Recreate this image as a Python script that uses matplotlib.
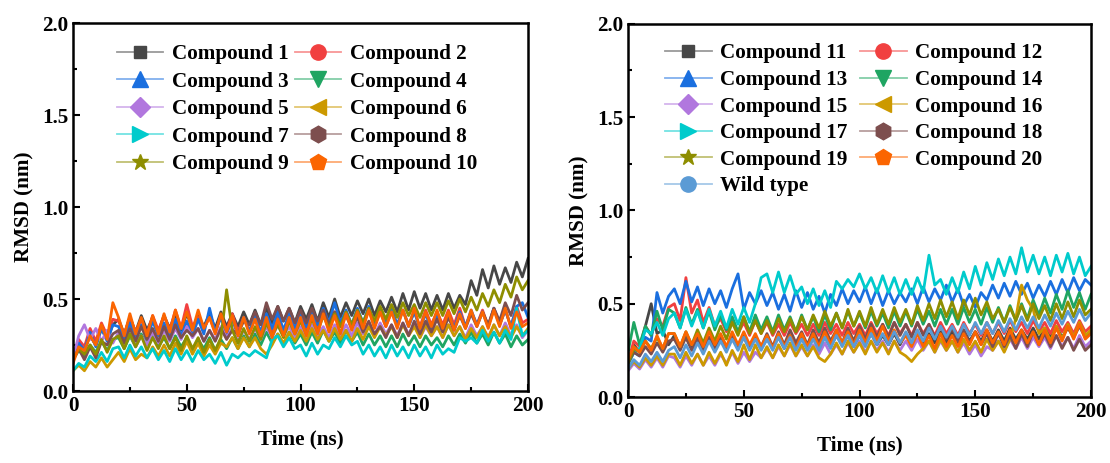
import numpy as np
import matplotlib
matplotlib.use("Agg")
import matplotlib.pyplot as plt
from matplotlib.lines import Line2D
from matplotlib.legend_handler import HandlerTuple
from matplotlib.ticker import MultipleLocator

plt.rcParams['font.family'] = ['Liberation Serif', 'DejaVu Serif']
plt.rcParams['font.weight'] = 'bold'

# ---------------- data (RMSD in nm, sampled every 2.5 ns from 0 to 200 ns) -------------
c1 = [0.18,0.27,0.22,0.30,0.25,0.34,0.28,0.36,
      0.39,0.31,0.40,0.32,0.41,0.33,0.40,0.32,
      0.41,0.34,0.42,0.33,0.42,0.34,0.41,0.35,
      0.42,0.34,0.43,0.35,0.42,0.35,0.43,0.36,
      0.44,0.36,0.45,0.37,0.46,0.38,0.45,0.37,
      0.46,0.39,0.47,0.38,0.48,0.40,0.50,0.40,
      0.48,0.41,0.49,0.42,0.50,0.41,0.49,0.43,
      0.51,0.43,0.53,0.44,0.54,0.45,0.53,0.44,
      0.52,0.44,0.53,0.45,0.52,0.47,0.60,0.52,
      0.66,0.56,0.68,0.58,0.67,0.59,0.70,0.62,0.72]
c2 = [0.17,0.28,0.24,0.34,0.27,0.37,0.30,0.39,
      0.38,0.31,0.40,0.32,0.39,0.31,0.41,0.33,
      0.41,0.33,0.44,0.34,0.47,0.35,0.40,0.34,
      0.40,0.32,0.41,0.33,0.42,0.32,0.40,0.33,
      0.39,0.31,0.41,0.32,0.40,0.32,0.39,0.33,
      0.40,0.33,0.41,0.34,0.42,0.35,0.43,0.35,
      0.42,0.35,0.43,0.36,0.44,0.35,0.43,0.35,
      0.43,0.36,0.44,0.36,0.43,0.35,0.44,0.36,
      0.43,0.36,0.44,0.36,0.45,0.35,0.43,0.36,
      0.44,0.35,0.45,0.36,0.44,0.35,0.46,0.37,0.39]
c3 = [0.18,0.26,0.22,0.32,0.24,0.34,0.27,0.36,
      0.35,0.28,0.37,0.29,0.36,0.28,0.38,0.30,
      0.37,0.29,0.39,0.30,0.38,0.30,0.39,0.31,
      0.45,0.32,0.40,0.31,0.39,0.30,0.40,0.32,
      0.41,0.32,0.42,0.34,0.43,0.33,0.42,0.34,
      0.43,0.35,0.44,0.36,0.45,0.37,0.48,0.37,
      0.44,0.36,0.45,0.37,0.46,0.36,0.44,0.37,
      0.45,0.36,0.44,0.35,0.43,0.34,0.42,0.33,
      0.41,0.33,0.42,0.34,0.43,0.35,0.44,0.36,
      0.43,0.35,0.45,0.36,0.44,0.35,0.46,0.48,0.40]
c4 = [0.17,0.22,0.19,0.25,0.21,0.27,0.22,0.28,
      0.29,0.23,0.30,0.24,0.31,0.25,0.30,0.24,
      0.29,0.23,0.30,0.24,0.29,0.22,0.28,0.23,
      0.29,0.22,0.28,0.23,0.29,0.23,0.30,0.24,
      0.31,0.25,0.32,0.26,0.31,0.25,0.32,0.26,
      0.31,0.25,0.32,0.26,0.33,0.27,0.32,0.26,
      0.33,0.27,0.32,0.25,0.31,0.25,0.30,0.24,
      0.30,0.24,0.31,0.25,0.30,0.24,0.30,0.25,
      0.29,0.24,0.30,0.25,0.31,0.26,0.32,0.26,
      0.31,0.25,0.32,0.26,0.31,0.24,0.30,0.25,0.28]
c5 = [0.18,0.30,0.36,0.28,0.34,0.27,0.33,0.26,
      0.32,0.25,0.31,0.24,0.30,0.25,0.32,0.26,
      0.33,0.27,0.34,0.28,0.35,0.29,0.34,0.27,
      0.33,0.28,0.35,0.29,0.34,0.27,0.33,0.28,
      0.34,0.28,0.35,0.29,0.36,0.30,0.35,0.29,
      0.35,0.29,0.36,0.30,0.35,0.29,0.36,0.30,
      0.36,0.30,0.37,0.31,0.36,0.30,0.37,0.31,
      0.36,0.30,0.37,0.31,0.36,0.29,0.35,0.30,
      0.35,0.29,0.36,0.30,0.35,0.29,0.36,0.30,
      0.35,0.29,0.36,0.30,0.37,0.30,0.36,0.29,0.33]
c6 = [0.11,0.14,0.11,0.16,0.13,0.18,0.13,0.17,
      0.21,0.16,0.23,0.17,0.20,0.18,0.24,0.19,
      0.25,0.19,0.26,0.20,0.27,0.20,0.26,0.19,
      0.25,0.20,0.26,0.24,0.29,0.23,0.29,0.24,
      0.29,0.23,0.20,0.25,0.31,0.26,0.32,0.27,
      0.33,0.27,0.34,0.28,0.33,0.27,0.34,0.28,
      0.33,0.27,0.34,0.28,0.35,0.29,0.35,0.30,
      0.35,0.29,0.36,0.30,0.35,0.29,0.36,0.30,
      0.35,0.29,0.36,0.30,0.35,0.28,0.34,0.29,
      0.35,0.29,0.36,0.30,0.35,0.29,0.35,0.30,0.34]
c7 = [0.11,0.15,0.13,0.19,0.16,0.21,0.16,0.23,
      0.24,0.18,0.25,0.19,0.24,0.18,0.23,0.17,
      0.22,0.16,0.23,0.17,0.22,0.16,0.22,0.17,
      0.20,0.15,0.21,0.14,0.20,0.18,0.21,0.19,
      0.22,0.20,0.18,0.28,0.30,0.24,0.29,0.23,
      0.25,0.19,0.26,0.20,0.25,0.23,0.29,0.24,
      0.30,0.25,0.27,0.20,0.25,0.19,0.24,0.18,
      0.25,0.19,0.24,0.18,0.25,0.19,0.24,0.18,
      0.25,0.20,0.23,0.21,0.29,0.27,0.29,0.26,
      0.33,0.27,0.32,0.26,0.33,0.28,0.45,0.30,0.33]
c8 = [0.17,0.23,0.17,0.24,0.18,0.27,0.25,0.31,
      0.33,0.26,0.34,0.27,0.35,0.28,0.34,0.27,
      0.35,0.28,0.36,0.29,0.33,0.30,0.34,0.27,
      0.33,0.27,0.34,0.28,0.33,0.31,0.38,0.36,
      0.43,0.36,0.48,0.39,0.46,0.38,0.45,0.37,
      0.44,0.37,0.45,0.38,0.44,0.36,0.43,0.35,
      0.41,0.34,0.40,0.32,0.38,0.31,0.35,0.29,
      0.36,0.29,0.37,0.30,0.38,0.31,0.38,0.32,
      0.39,0.32,0.40,0.33,0.41,0.34,0.42,0.35,
      0.43,0.36,0.45,0.38,0.48,0.41,0.52,0.44,0.48]
c9 = [0.17,0.23,0.20,0.25,0.20,0.28,0.21,0.28,
      0.30,0.23,0.31,0.24,0.30,0.22,0.29,0.23,
      0.30,0.23,0.29,0.22,0.30,0.23,0.29,0.21,
      0.28,0.22,0.29,0.55,0.33,0.26,0.34,0.27,
      0.35,0.28,0.37,0.30,0.36,0.29,0.38,0.31,
      0.38,0.31,0.39,0.32,0.41,0.34,0.42,0.35,
      0.43,0.36,0.44,0.37,0.45,0.38,0.46,0.39,
      0.47,0.40,0.48,0.41,0.47,0.40,0.48,0.41,
      0.48,0.41,0.49,0.42,0.50,0.43,0.51,0.44,
      0.53,0.46,0.55,0.48,0.58,0.51,0.62,0.55,0.60]
c10 = [0.15,0.24,0.22,0.30,0.25,0.36,0.28,0.48,
       0.40,0.30,0.42,0.31,0.40,0.30,0.41,0.31,
       0.42,0.32,0.44,0.34,0.43,0.33,0.44,0.34,
       0.40,0.31,0.42,0.32,0.41,0.30,0.40,0.31,
       0.39,0.30,0.40,0.29,0.39,0.30,0.40,0.31,
       0.40,0.30,0.41,0.31,0.42,0.32,0.41,0.31,
       0.42,0.33,0.43,0.34,0.44,0.34,0.43,0.35,
       0.43,0.34,0.44,0.35,0.45,0.34,0.43,0.35,
       0.44,0.34,0.43,0.33,0.42,0.34,0.44,0.35,
       0.43,0.34,0.44,0.35,0.45,0.34,0.43,0.35,0.37]

c11 = [0.18,0.28,0.24,0.38,0.50,0.34,0.36,0.28,
       0.33,0.27,0.32,0.26,0.33,0.27,0.32,0.26,
       0.33,0.27,0.32,0.26,0.33,0.27,0.32,0.26,
       0.31,0.27,0.32,0.26,0.33,0.27,0.32,0.27,
       0.33,0.27,0.32,0.27,0.33,0.28,0.33,0.27,
       0.33,0.28,0.34,0.28,0.33,0.28,0.34,0.28,
       0.34,0.29,0.35,0.29,0.34,0.29,0.35,0.29,
       0.35,0.29,0.36,0.30,0.35,0.30,0.36,0.30,
       0.36,0.30,0.37,0.31,0.36,0.31,0.37,0.31,
       0.37,0.32,0.38,0.32,0.37,0.32,0.38,0.32,0.36]
c12 = [0.19,0.30,0.27,0.38,0.33,0.42,0.38,0.48,
       0.50,0.41,0.64,0.45,0.52,0.40,0.48,0.38,
       0.42,0.35,0.41,0.34,0.40,0.33,0.41,0.34,
       0.40,0.33,0.39,0.33,0.40,0.34,0.39,0.33,
       0.39,0.33,0.40,0.34,0.39,0.33,0.40,0.34,
       0.39,0.33,0.40,0.34,0.39,0.33,0.40,0.34,
       0.39,0.33,0.40,0.34,0.39,0.33,0.40,0.34,
       0.39,0.33,0.40,0.34,0.39,0.33,0.40,0.34,
       0.40,0.34,0.41,0.35,0.40,0.34,0.41,0.35,
       0.40,0.34,0.41,0.35,0.40,0.34,0.41,0.35,0.38]
c13 = [0.18,0.24,0.22,0.32,0.30,0.56,0.45,0.54,
       0.58,0.50,0.62,0.51,0.59,0.49,0.58,0.50,
       0.57,0.48,0.58,0.66,0.47,0.56,0.50,0.57,
       0.49,0.56,0.47,0.55,0.46,0.57,0.48,0.56,
       0.47,0.54,0.45,0.55,0.49,0.58,0.50,0.57,
       0.51,0.59,0.50,0.58,0.49,0.57,0.50,0.56,
       0.51,0.58,0.50,0.59,0.51,0.58,0.52,0.60,
       0.51,0.58,0.49,0.55,0.48,0.56,0.52,0.60,
       0.53,0.61,0.54,0.62,0.55,0.61,0.53,0.60,
       0.54,0.62,0.55,0.63,0.56,0.64,0.57,0.63,0.60]
c14 = [0.24,0.40,0.28,0.38,0.33,0.46,0.36,0.47,
       0.45,0.37,0.48,0.39,0.47,0.37,0.46,0.36,
       0.44,0.36,0.43,0.35,0.43,0.35,0.44,0.36,
       0.43,0.35,0.44,0.36,0.43,0.35,0.44,0.36,
       0.43,0.35,0.44,0.36,0.45,0.37,0.46,0.38,
       0.45,0.37,0.46,0.38,0.45,0.37,0.46,0.38,
       0.46,0.38,0.47,0.39,0.46,0.38,0.47,0.39,
       0.47,0.39,0.48,0.40,0.47,0.39,0.48,0.40,
       0.48,0.40,0.49,0.41,0.50,0.42,0.52,0.44,
       0.53,0.45,0.55,0.47,0.57,0.48,0.56,0.47,0.55]
c15 = [0.14,0.18,0.15,0.20,0.16,0.21,0.16,0.22,
       0.21,0.16,0.22,0.17,0.23,0.17,0.22,0.17,
       0.23,0.18,0.24,0.18,0.24,0.19,0.24,0.21,
       0.26,0.21,0.27,0.22,0.28,0.22,0.27,0.22,
       0.28,0.23,0.29,0.23,0.28,0.23,0.29,0.24,
       0.30,0.24,0.30,0.25,0.30,0.24,0.30,0.25,
       0.30,0.25,0.31,0.25,0.30,0.24,0.30,0.25,
       0.30,0.24,0.29,0.23,0.28,0.22,0.27,0.25,
       0.30,0.25,0.31,0.26,0.32,0.26,0.32,0.27,
       0.32,0.26,0.33,0.27,0.32,0.26,0.33,0.27,0.30]
c16 = [0.15,0.19,0.16,0.21,0.17,0.22,0.17,0.23,
       0.23,0.17,0.24,0.18,0.23,0.17,0.24,0.18,
       0.24,0.17,0.25,0.19,0.28,0.20,0.28,0.21,
       0.27,0.21,0.28,0.22,0.29,0.22,0.28,0.22,
       0.27,0.21,0.19,0.23,0.29,0.23,0.30,0.24,
       0.29,0.23,0.30,0.24,0.29,0.23,0.30,0.24,
       0.22,0.19,0.23,0.26,0.30,0.24,0.31,0.25,
       0.30,0.24,0.31,0.25,0.30,0.24,0.31,0.25,
       0.30,0.24,0.31,0.42,0.60,0.52,0.47,0.34,
       0.37,0.30,0.38,0.31,0.39,0.32,0.40,0.33,0.36]
c17 = [0.17,0.24,0.26,0.36,0.34,0.40,0.33,0.42,
       0.45,0.37,0.47,0.38,0.46,0.37,0.47,0.38,
       0.46,0.37,0.47,0.39,0.48,0.40,0.50,0.64,
       0.66,0.56,0.67,0.56,0.65,0.55,0.59,0.50,
       0.58,0.49,0.57,0.48,0.62,0.58,0.63,0.59,
       0.66,0.58,0.64,0.56,0.65,0.56,0.64,0.55,
       0.63,0.55,0.64,0.56,0.76,0.60,0.63,0.55,
       0.64,0.56,0.67,0.58,0.70,0.60,0.72,0.63,
       0.74,0.65,0.75,0.66,0.80,0.67,0.76,0.66,
       0.75,0.65,0.76,0.67,0.77,0.66,0.75,0.65,0.70]
c18 = [0.18,0.24,0.22,0.27,0.23,0.29,0.24,0.30,
       0.31,0.25,0.32,0.25,0.31,0.25,0.32,0.26,
       0.32,0.26,0.33,0.27,0.32,0.26,0.33,0.27,
       0.34,0.27,0.35,0.28,0.36,0.29,0.35,0.28,
       0.36,0.29,0.37,0.30,0.36,0.29,0.37,0.30,
       0.38,0.31,0.39,0.32,0.39,0.32,0.40,0.33,
       0.39,0.32,0.40,0.33,0.39,0.32,0.38,0.31,
       0.37,0.30,0.36,0.29,0.35,0.28,0.34,0.27,
       0.34,0.27,0.33,0.26,0.34,0.27,0.35,0.28,
       0.34,0.27,0.33,0.26,0.32,0.25,0.31,0.25,0.28]
c19 = [0.18,0.26,0.24,0.30,0.26,0.32,0.26,0.34,
       0.34,0.27,0.35,0.28,0.36,0.29,0.37,0.30,
       0.38,0.31,0.40,0.33,0.43,0.34,0.41,0.34,
       0.41,0.34,0.42,0.35,0.42,0.35,0.43,0.36,
       0.44,0.37,0.46,0.38,0.45,0.37,0.47,0.38,
       0.46,0.38,0.48,0.39,0.47,0.39,0.48,0.40,
       0.47,0.39,0.49,0.41,0.50,0.42,0.52,0.43,
       0.51,0.42,0.52,0.44,0.53,0.44,0.51,0.42,
       0.47,0.40,0.48,0.41,0.49,0.41,0.50,0.42,
       0.49,0.41,0.50,0.42,0.51,0.43,0.52,0.44,0.47]
c20 = [0.20,0.27,0.24,0.30,0.25,0.33,0.26,0.34,
       0.34,0.27,0.35,0.28,0.34,0.27,0.35,0.28,
       0.34,0.27,0.35,0.28,0.35,0.28,0.34,0.27,
       0.33,0.26,0.34,0.27,0.33,0.26,0.34,0.27,
       0.34,0.27,0.35,0.28,0.36,0.29,0.35,0.28,
       0.36,0.29,0.37,0.30,0.38,0.30,0.36,0.29,
       0.33,0.27,0.34,0.27,0.33,0.26,0.34,0.27,
       0.33,0.27,0.34,0.28,0.35,0.28,0.36,0.29,
       0.35,0.28,0.36,0.29,0.36,0.29,0.35,0.28,
       0.36,0.29,0.37,0.30,0.38,0.31,0.39,0.31,0.34]
wild = [0.15,0.20,0.17,0.23,0.19,0.24,0.19,0.25,
        0.27,0.21,0.28,0.22,0.29,0.23,0.30,0.24,
        0.30,0.24,0.31,0.25,0.32,0.25,0.31,0.25,
        0.31,0.25,0.32,0.26,0.32,0.25,0.31,0.25,
        0.31,0.25,0.32,0.26,0.33,0.27,0.33,0.27,
        0.33,0.27,0.34,0.28,0.34,0.28,0.35,0.29,
        0.35,0.29,0.36,0.30,0.37,0.31,0.38,0.32,
        0.38,0.32,0.39,0.33,0.40,0.34,0.40,0.34,
        0.41,0.35,0.42,0.36,0.43,0.37,0.43,0.37,
        0.44,0.38,0.45,0.39,0.46,0.40,0.47,0.41,0.45]

left_labels = [f"Compound {i}" for i in range(1, 11)]
right_labels = [f"Compound {i}" for i in range(11, 21)] + ["Wild type"]
left_series = [c1, c2, c3, c4, c5, c6, c7, c8, c9, c10]
right_series = [c11, c12, c13, c14, c15, c16, c17, c18, c19, c20, wild]

colors = ['#474747', '#F14040', '#1A6FDF', '#1FA562', '#B177DE', '#CC9900',
          '#00CBCC', '#7D4E4E', '#8E8E00', '#FB6501', '#5B9BD5']
markers = ['s', 'o', '^', 'v', 'D', '<', '>', 'h', '*', 'p', 'o']
msizes = [9, 11, 12, 12, 10, 12, 12, 12, 12, 12, 11]

fig = plt.figure(figsize=(11.1, 4.63), dpi=100)
axL = fig.add_axes([0.0658, 0.1555, 0.4099, 0.7948])
axR = fig.add_axes([0.5658, 0.1425, 0.4171, 0.8060])

FS = 15.2


def draw(ax, series, labels, legend_anchor, colsp, lsp):
    handles = []
    for ci, (y, lab) in enumerate(zip(series, labels)):
        t = np.linspace(0, 200, len(y))
        ax.plot(t, y, color=colors[ci], lw=2.0, solid_joinstyle='round')
        hl = Line2D([], [], color=colors[ci], lw=1.3, alpha=0.55)
        hm = Line2D([], [], linestyle='none', marker=markers[ci],
                    markersize=msizes[ci], markerfacecolor=colors[ci],
                    markeredgecolor=colors[ci])
        handles.append((hl, hm))
    ax.set_xlim(0, 200)
    ax.set_ylim(0, 2.0)
    ax.xaxis.set_major_locator(MultipleLocator(50))
    ax.xaxis.set_minor_locator(MultipleLocator(25))
    ax.yaxis.set_major_locator(MultipleLocator(0.5))
    ax.yaxis.set_minor_locator(MultipleLocator(0.25))
    ax.tick_params(which='both', direction='in', top=False, right=False,
                   width=1.5, labelsize=FS)
    ax.tick_params(which='major', length=5)
    ax.tick_params(which='minor', length=3)
    ax.set_yticks([0, 0.5, 1.0, 1.5, 2.0])
    ax.set_yticklabels(['0.0', '0.5', '1.0', '1.5', '2.0'])
    for lab in ax.get_xticklabels() + ax.get_yticklabels():
        lab.set_fontweight('bold')
    for s in ax.spines.values():
        s.set_linewidth(1.8)
    ax.set_xlabel('Time (ns)', fontsize=FS, fontweight='bold', labelpad=10)
    ax.set_ylabel('RMSD (nm)', fontsize=FS, fontweight='bold', labelpad=5)
    n = len(handles)
    order = list(range(0, n, 2)) + list(range(1, n, 2))
    ax.legend([handles[i] for i in order], [labels[i] for i in order],
              handler_map={tuple: HandlerTuple(ndivide=1, pad=0)},
              ncol=2, frameon=False, loc='upper left', bbox_to_anchor=legend_anchor,
              prop={'size': FS, 'weight': 'bold'}, handlelength=2.2,
              handletextpad=0.4, columnspacing=colsp, labelspacing=lsp,
              borderaxespad=0)


draw(axL, left_series, left_labels, (0.078, 0.966), 0.3, 0.36)
draw(axR, right_series, right_labels, (0.062, 0.97), 0.6, 0.31)

fig.savefig('out.png', dpi=100)
